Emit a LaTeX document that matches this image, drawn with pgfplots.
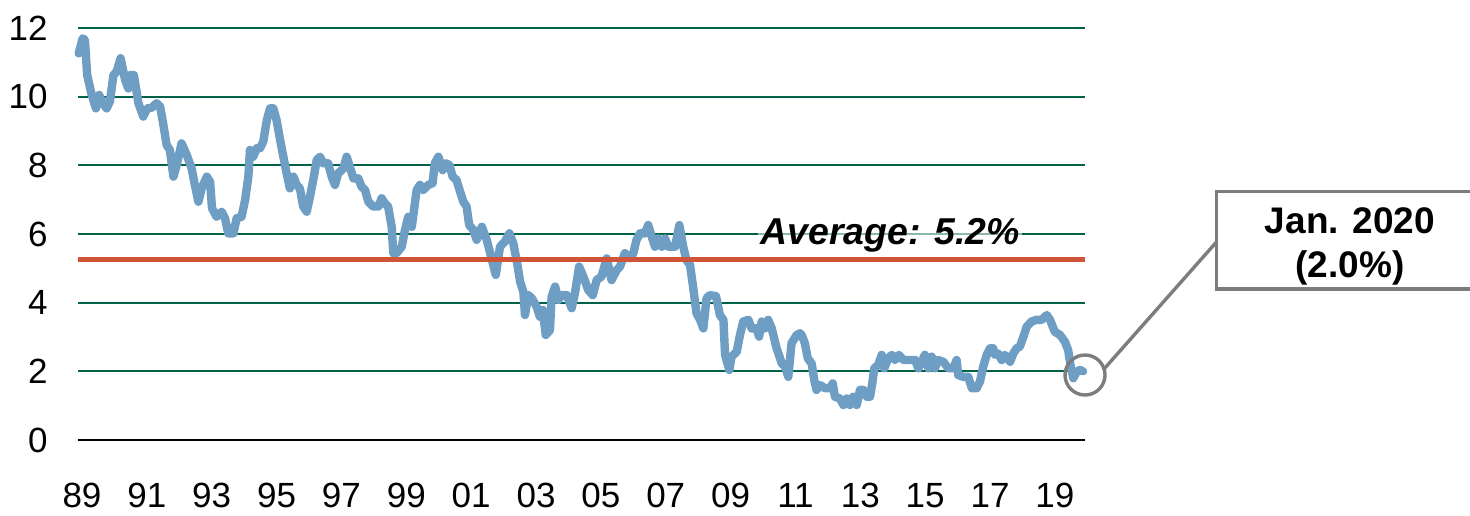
\documentclass[border=0pt]{standalone}
\usepackage{fontspec}
\setmainfont{Liberation Sans}
\usepackage{pgfplots}
\pgfplotsset{compat=1.18}
\definecolor{lineblue}{RGB}{111,158,196}
\definecolor{avgred}{RGB}{208,85,56}
\definecolor{gridgreen}{RGB}{0,98,70}
\definecolor{annogray}{RGB}{125,125,125}
\pgfplotstableread{
year value
1988.90 11.26
1989.02 11.70
1989.09 11.65
1989.16 10.63
1989.30 10.05
1989.43 9.66
1989.53 10.05
1989.64 9.81
1989.76 9.66
1989.86 9.86
1989.97 10.63
1990.07 10.73
1990.19 11.12
1990.33 10.49
1990.43 10.24
1990.48 10.63
1990.60 10.63
1990.74 9.81
1990.89 9.42
1991.01 9.66
1991.15 9.68
1991.30 9.81
1991.41 9.71
1991.51 9.18
1991.61 8.59
1991.71 8.45
1991.82 7.67
1991.92 8.01
1992.07 8.64
1992.23 8.30
1992.38 7.91
1992.48 7.43
1992.59 6.94
1992.69 7.33
1992.85 7.67
1992.95 7.52
1993.01 6.75
1993.15 6.50
1993.31 6.65
1993.41 6.46
1993.51 6.02
1993.67 6.02
1993.77 6.46
1993.92 6.50
1994.03 6.99
1994.13 7.67
1994.18 8.45
1994.28 8.25
1994.39 8.50
1994.49 8.50
1994.59 8.69
1994.70 9.32
1994.80 9.66
1994.90 9.66
1995.00 9.32
1995.11 8.74
1995.21 8.25
1995.31 7.77
1995.41 7.33
1995.52 7.67
1995.62 7.43
1995.72 7.33
1995.82 6.80
1995.93 6.65
1996.03 7.09
1996.13 7.57
1996.24 8.16
1996.34 8.25
1996.44 8.06
1996.59 8.06
1996.70 7.67
1996.80 7.43
1996.90 7.77
1997.06 7.91
1997.16 8.25
1997.26 7.96
1997.37 7.62
1997.52 7.62
1997.62 7.38
1997.73 7.28
1997.83 6.94
1997.98 6.80
1998.14 6.80
1998.24 7.04
1998.34 6.89
1998.44 6.80
1998.55 6.21
1998.60 5.44
1998.70 5.44
1998.86 5.63
1998.96 6.12
1999.06 6.50
1999.17 6.21
1999.32 7.28
1999.42 7.43
1999.52 7.28
1999.68 7.43
1999.81 7.48
1999.88 8.06
1999.99 8.25
2000.12 7.86
2000.22 8.06
2000.33 8.01
2000.43 7.67
2000.55 7.57
2000.66 7.23
2000.76 6.94
2000.86 6.80
2000.94 6.26
2001.07 6.12
2001.17 5.83
2001.33 6.21
2001.48 5.83
2001.63 5.29
2001.76 4.81
2001.89 5.63
2002.04 5.78
2002.18 6.02
2002.30 5.73
2002.42 5.15
2002.51 4.61
2002.61 4.32
2002.66 3.64
2002.76 4.22
2002.87 4.13
2003.02 3.88
2003.12 3.59
2003.21 3.79
2003.30 3.06
2003.43 3.20
2003.48 4.17
2003.59 4.47
2003.69 4.08
2003.79 4.22
2003.95 4.22
2004.10 3.84
2004.20 4.27
2004.33 5.05
2004.46 4.76
2004.61 4.37
2004.75 4.22
2004.87 4.66
2005.02 4.76
2005.18 5.29
2005.33 4.66
2005.49 4.95
2005.59 5.05
2005.74 5.44
2005.90 5.29
2006.00 5.44
2006.10 5.83
2006.21 6.02
2006.36 6.02
2006.46 6.26
2006.57 5.92
2006.67 5.63
2006.77 5.87
2006.88 5.63
2006.98 5.87
2007.08 5.63
2007.29 5.63
2007.42 6.26
2007.54 5.63
2007.64 5.24
2007.75 5.10
2007.85 4.42
2007.95 3.69
2008.06 3.50
2008.16 3.25
2008.26 4.13
2008.36 4.22
2008.55 4.19
2008.67 3.64
2008.78 3.50
2008.83 2.48
2008.96 2.04
2009.03 2.43
2009.19 2.57
2009.29 3.06
2009.39 3.45
2009.55 3.50
2009.65 3.25
2009.80 3.25
2009.88 3.01
2009.96 3.45
2010.06 3.25
2010.16 3.50
2010.27 3.25
2010.42 2.67
2010.58 2.23
2010.68 2.14
2010.78 1.84
2010.88 2.82
2011.04 3.06
2011.14 3.11
2011.19 3.06
2011.29 2.82
2011.38 2.38
2011.50 2.23
2011.58 1.75
2011.65 1.46
2011.76 1.60
2011.91 1.51
2012.07 1.51
2012.15 1.65
2012.22 1.26
2012.37 1.21
2012.48 1.02
2012.58 1.21
2012.68 1.02
2012.78 1.26
2012.89 1.02
2012.99 1.46
2013.09 1.46
2013.20 1.26
2013.30 1.26
2013.37 1.65
2013.43 2.09
2013.55 2.18
2013.66 2.48
2013.74 2.09
2013.86 2.38
2013.97 2.48
2014.07 2.33
2014.19 2.48
2014.33 2.33
2014.53 2.33
2014.69 2.33
2014.79 2.09
2014.89 2.28
2014.99 2.48
2015.10 2.09
2015.20 2.43
2015.30 2.09
2015.40 2.33
2015.56 2.28
2015.71 2.09
2015.87 2.09
2015.97 2.33
2016.02 1.89
2016.18 1.84
2016.33 1.84
2016.44 1.51
2016.59 1.51
2016.69 1.70
2016.79 2.14
2016.90 2.48
2017.00 2.67
2017.10 2.67
2017.15 2.48
2017.25 2.52
2017.36 2.33
2017.46 2.48
2017.62 2.28
2017.72 2.52
2017.82 2.67
2017.92 2.72
2018.03 3.01
2018.13 3.30
2018.28 3.45
2018.43 3.50
2018.59 3.50
2018.75 3.64
2018.85 3.50
2019.00 3.15
2019.16 3.06
2019.31 2.86
2019.41 2.62
2019.49 2.14
2019.57 1.80
2019.67 1.99
2019.77 2.04
2019.87 2.00
}\ratedata
\begin{document}
\begin{tikzpicture}
\useasboundingbox (0pt,0pt) rectangle (735pt,-257.5pt);
\begin{axis}[
  at={(39pt,-220pt)}, anchor=south west,
  scale only axis, width=503.5pt, height=206pt,
  xmin=1988.877, xmax=2019.93, ymin=0, ymax=12,
  axis line style={draw=none},
  xtick={1989,1991,...,2019},
  xticklabels={89,91,93,95,97,99,01,03,05,07,09,11,13,15,17,19},
  ytick={0,2,...,12},
  major tick length=0pt,
  ymajorgrids=true,
  major grid style={color=gridgreen, line width=1pt},
  tick label style={font=\fontsize{17.5}{20}\selectfont},
  /pgf/number format/assume math mode=true,
  xticklabel style={anchor=north, inner sep=0pt, yshift=-21.5pt},
  yticklabel style={anchor=east, inner sep=0pt, xshift=-15pt},
  clip=false,
]
\draw[black, line width=1.2pt] (rel axis cs:0,0) -- (rel axis cs:1,0);
\addplot[lineblue, line width=4.2pt, line join=round, line cap=round, no marks] table[x=year, y=value] {\ratedata};
\addplot[avgred, line width=2.5pt, no marks] coordinates {(1988.877,5.25) (2019.93,5.25)};
\end{axis}
\node[fill=white, fill opacity=0.55, text opacity=1, inner sep=1pt, font=\bfseries\itshape\fontsize{18.7}{22}\selectfont] at (445pt,-117.5pt) {Average: 5.2\%};
\draw[annogray, line width=1.7pt] (542.5pt,-187.5pt) circle (10pt);
\draw[annogray, line width=1.7pt] (552pt,-184.5pt) -- (608.35pt,-120.85pt);
\draw[annogray, line width=1.7pt, fill=white] (608.35pt,-95.85pt) rectangle (741.5pt,-144.5pt);
\node[anchor=base, inner sep=0pt, font=\bfseries\fontsize{18.5}{22}\selectfont] at (675pt,-116.7pt) {Jan. 2020};
\node[anchor=base, inner sep=0pt, font=\bfseries\fontsize{18.5}{22}\selectfont] at (675pt,-138.5pt) {(2.0\%)};
\end{tikzpicture}
\end{document}
